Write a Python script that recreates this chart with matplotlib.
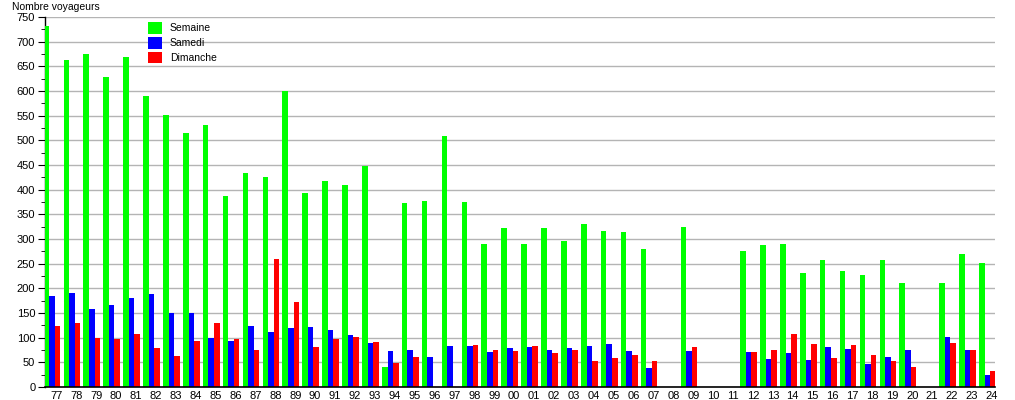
import numpy as np
import matplotlib
matplotlib.use("Agg")
import matplotlib.pyplot as plt

plt.rcParams['font.family'] = ['Liberation Sans', 'DejaVu Sans']

# Années (77 -> 24)
annees = ['77', '78', '79', '80', '81', '82', '83', '84', '85', '86', '87', '88',
          '89', '90', '91', '92', '93', '94', '95', '96', '97', '98', '99', '00',
          '01', '02', '03', '04', '05', '06', '07', '08', '09', '10', '11', '12',
          '13', '14', '15', '16', '17', '18', '19', '20', '21', '22', '23', '24']

semaine = [732, 663, 674, 629, 668, 589, 552, 514, 532, 388, 434, 426,
           599, 394, 418, 410, 447, 41, 372, 378, 509, 376, 290, 323,
           290, 323, 295, 331, 317, 315, 280, 0, 325, 0, 0, 276,
           288, 290, 232, 258, 236, 228, 258, 211, 0, 211, 270, 252]

samedi = [185, 191, 159, 167, 181, 189, 151, 151, 100, 94, 124, 112,
          120, 122, 116, 106, 90, 72, 74, 61, 84, 84, 70, 80,
          82, 74, 80, 84, 88, 72, 39, 0, 72, 0, 0, 70,
          57, 68, 55, 82, 78, 47, 61, 76, 0, 102, 76, 25]

dimanche = [124, 130, 100, 98, 108, 80, 63, 94, 130, 98, 76, 260,
            173, 82, 98, 102, 92, 49, 61, 0, 0, 86, 74, 72,
            84, 68, 74, 53, 59, 64, 53, 0, 82, 0, 0, 70,
            76, 108, 88, 59, 86, 65, 53, 41, 0, 90, 76, 33]

x = np.arange(len(annees))
w = 0.28

fig = plt.figure(figsize=(10.15, 4.0), dpi=100)
ax = fig.add_axes([45/1015, 13/400, 950/1015, 370/400])

ax.bar(x - w, semaine, w, color='#00ff00', label='Semaine', zorder=3)
ax.bar(x, samedi, w, color='#0000ff', label='Samedi', zorder=3)
ax.bar(x + w, dimanche, w, color='#ff0000', label='Dimanche', zorder=3)

ax.set_xlim(-0.35, 47.38)
ax.set_ylim(0, 750)
ax.set_yticks(np.arange(0, 751, 50))
ax.set_yticks(np.arange(0, 751, 25), minor=True)
ax.set_xticks(x + 0.22)
ax.set_xticklabels(annees)

ax.yaxis.grid(True, color='#b4b4b4', linewidth=1, zorder=0)
ax.set_axisbelow(True)
for s in ['top', 'right']:
    ax.spines[s].set_visible(False)
ax.spines['left'].set_linewidth(1)
ax.spines['bottom'].set_linewidth(1.2)
ax.spines['bottom'].set_zorder(4)

ax.tick_params(axis='x', length=0, labelsize=8, pad=3)
ax.tick_params(axis='y', which='major', length=5, labelsize=8, pad=2)
ax.tick_params(axis='y', which='minor', length=3)

fig.text(12/1015, 1 - 7/400, 'Nombre voyageurs', fontsize=7.5, va='center', ha='left')

ax.legend(loc='upper left', bbox_to_anchor=(148/1015, 1 - 22/400),
          bbox_transform=fig.transFigure, frameon=False, fontsize=7.5,
          handlelength=1.35, handleheight=1.35, labelspacing=0.3,
          handletextpad=0.75, borderpad=0, borderaxespad=0)

fig.savefig('out.png', dpi=100)
